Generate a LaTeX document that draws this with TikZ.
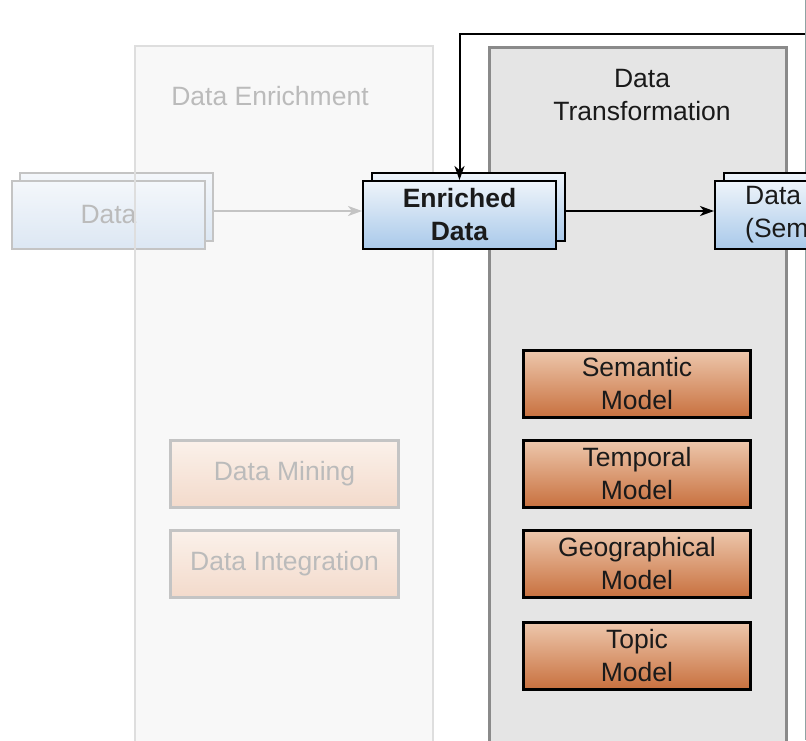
\documentclass[tikz,border=0pt]{standalone}
\usepackage{fontspec}
\setmainfont{Liberation Sans}
\usetikzlibrary{arrows.meta}
\definecolor{laneAfill}{HTML}{F8F8F8}
\definecolor{laneAdraw}{HTML}{DEDEDE}
\definecolor{laneBfill}{HTML}{E5E5E5}
\definecolor{laneBdraw}{HTML}{8A8A8A}
\definecolor{fadetext}{HTML}{BBBBBB}
\definecolor{fadedraw}{HTML}{C4C4C4}
\definecolor{bluetop}{HTML}{EEF4FA}
\definecolor{bluebot}{HTML}{A9C9EA}
\definecolor{fbluetop}{HTML}{F4F7FB}
\definecolor{fbluebot}{HTML}{DCE7F3}
\definecolor{ortop}{HTML}{EDC7AC}
\definecolor{orbot}{HTML}{C8703E}
\definecolor{fortop}{HTML}{FBF1EA}
\definecolor{forbot}{HTML}{F3DACB}
\definecolor{txt}{HTML}{1A1A1A}
\definecolor{frame}{HTML}{8FA3A3}
\begin{document}
\begin{tikzpicture}[x=1pt,y=-1pt,
  every node/.style={font=\fontsize{26.5}{33}\selectfont, text=txt, align=center, inner sep=0pt},
  lane/.style={rectangle, anchor=north west, minimum height=720pt},
  doc/.style={rectangle, line width=2pt, draw=black, top color=bluetop, bottom color=bluebot, minimum width=193pt, minimum height=68pt},
  fdoc/.style={rectangle, line width=2pt, draw=fadedraw, top color=fbluetop, bottom color=fbluebot, minimum width=193pt, minimum height=68pt, text=fadetext},
  model/.style={rectangle, line width=3.8pt, draw=black, top color=ortop, bottom color=orbot, minimum width=227pt, minimum height=67pt},
  fmodel/.style={rectangle, line width=3pt, draw=fadedraw, top color=fortop, bottom color=forbot, minimum width=228pt, minimum height=67pt, text=fadetext},
  blkarrow/.style={line width=2pt, draw=black, -{Stealth[length=14pt,width=10pt,inset=4pt]}},
  grayarrow/.style={line width=2pt, draw=fadedraw, -{Stealth[length=14pt,width=10pt,inset=4pt]}}
]
\useasboundingbox (0,0) rectangle (806,740);
\clip (0,0) rectangle (806,740);
% lanes
\node[lane, fill=laneAfill, minimum width=298pt] (laneA) at (135,46) {};
\node[lane, fill=laneBfill, draw=laneBdraw, line width=2.5pt, minimum width=297pt] (laneB) at (488,46) {};
\node[text=fadetext] (laneAtitle) at (270,96) {Data Enrichment};
\node (laneBtitle) at (642,95) {Data\\Transformation};
% frame line at right
\draw[frame, line width=1pt] (805.5,0) -- (805.5,740);
% faded data document
\node[fdoc] (databack) at (116,207) {};
\node[fdoc] (data) at (108.5,215) {Data};
\draw[laneAdraw, line width=2pt] (laneA.north west) rectangle (laneA.south east);
% enriched data
\node[doc] (enrback) at (468.5,207) {};
\node[doc, font=\fontsize{26.5}{33}\selectfont\bfseries] (enr) at (459.5,215) {Enriched\\Data};
% data (semantic)
\node[doc] (semback) at (820.5,207) {};
\node[doc] (sem) at (811.5,215) {};
\node[anchor=west, align=left] (semtext) at (745,215) {Data\\(Semantic)};
% connectors
\draw[grayarrow] ([yshift=-4pt]databack.east) -- ([yshift=4pt]enr.west);
\draw[blkarrow] ([yshift=-4pt]enrback.east) -- ([yshift=4pt]sem.west);
\coordinate (fbstart) at (805,34);
\draw[blkarrow] (fbstart) -| (enr.north);
% models
\node[model] (m1) at (637,384) {Semantic\\Model};
\node[model] (m2) at (637,474) {Temporal\\Model};
\node[model] (m3) at (637,564) {Geographical\\Model};
\node[model] (m4) at (637,656) {Topic\\Model};
% faded tasks
\node[fmodel] (t1) at (284.5,474) {Data Mining};
\node[fmodel] (t2) at (284.5,564) {Data Integration};
\end{tikzpicture}
\end{document}
